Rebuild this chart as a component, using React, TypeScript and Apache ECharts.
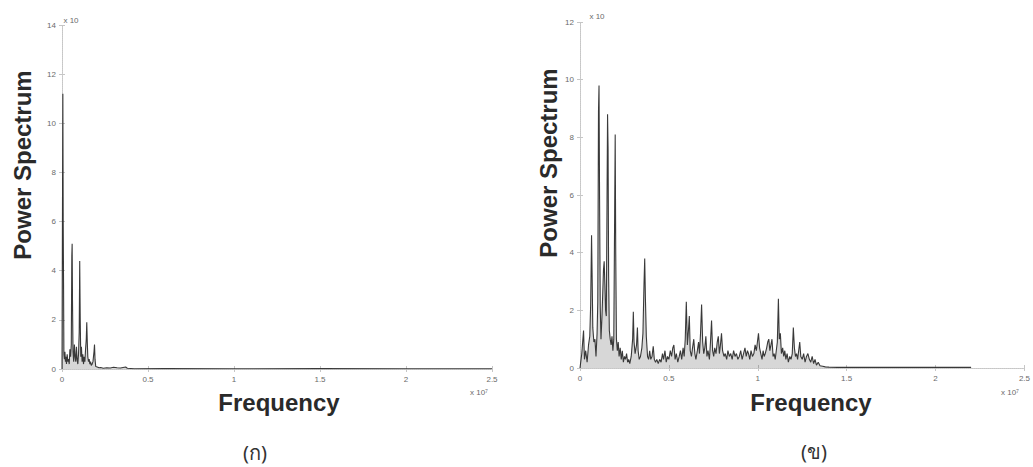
import React, { useEffect, useRef } from "react";
import * as echarts from "echarts";

// Frequency in units of 1e7, power in units of 1e10
const freqA = [
  0.0, 0.003, 0.005, 0.007, 0.009, 0.011, 0.014, 0.017, 0.02, 0.023, 0.026, 0.03, 0.034, 0.038,
  0.042, 0.046, 0.05, 0.054, 0.057, 0.059, 0.061, 0.064, 0.068, 0.072, 0.076, 0.08, 0.084, 0.088,
  0.092, 0.096, 0.1, 0.103, 0.106, 0.109, 0.113, 0.117, 0.121, 0.125, 0.129, 0.133, 0.137, 0.141,
  0.144, 0.147, 0.15, 0.154, 0.158, 0.162, 0.166, 0.17, 0.175, 0.18, 0.186, 0.189, 0.192, 0.196,
  0.205, 0.215, 0.225, 0.24, 0.26, 0.28, 0.3, 0.32, 0.34, 0.37, 0.38, 0.42, 0.6, 1.0, 1.5, 2.0, 2.5,
];
const powerA = [
  0.0, 7.0, 11.2, 6.0, 3.5, 0.6, 0.4, 0.7, 0.3, 0.5, 0.2, 0.6, 0.3, 0.4,
  0.2, 0.8, 0.5, 1.0, 4.6, 5.1, 2.8, 0.7, 0.3, 1.0, 0.5, 0.3, 0.9, 0.4,
  0.2, 0.6, 1.5, 4.4, 2.0, 0.5, 0.9, 0.3, 0.6, 0.2, 0.5, 0.3, 0.8, 1.2,
  1.9, 1.1, 0.5, 0.3, 0.4, 0.2, 0.3, 0.15, 0.2, 0.3, 0.7, 1.0, 0.4, 0.1,
  0.08, 0.05, 0.06, 0.03, 0.05, 0.04, 0.07, 0.05, 0.04, 0.08, 0.03, 0.01, 0.02, 0.01, 0.02, 0.01, 0.01,
];

const freqB = [
  0.0, 0.01, 0.02, 0.025, 0.032, 0.04, 0.048, 0.055, 0.06, 0.065, 0.068, 0.072, 0.078, 0.084,
  0.09, 0.096, 0.1, 0.104, 0.107, 0.11, 0.114, 0.118, 0.123, 0.128, 0.132, 0.136, 0.14, 0.144,
  0.148, 0.152, 0.155, 0.158, 0.161, 0.165, 0.17, 0.175, 0.18, 0.185, 0.19, 0.195, 0.198, 0.201,
  0.205, 0.21, 0.215, 0.22, 0.226, 0.232, 0.238, 0.244, 0.25, 0.256, 0.262, 0.268, 0.274, 0.28,
  0.288, 0.296, 0.3, 0.304, 0.31, 0.318, 0.323, 0.327, 0.333, 0.34, 0.348, 0.354, 0.36, 0.364,
  0.368, 0.373, 0.38, 0.386, 0.392, 0.398, 0.405, 0.412, 0.418, 0.425, 0.432, 0.44, 0.448, 0.456,
  0.464, 0.47, 0.478, 0.485, 0.492, 0.5, 0.508, 0.515, 0.522, 0.528, 0.535, 0.542, 0.55, 0.558,
  0.565, 0.572, 0.58, 0.586, 0.592, 0.598, 0.604, 0.61, 0.615, 0.62, 0.627, 0.633, 0.64, 0.646,
  0.652, 0.66, 0.667, 0.672, 0.678, 0.684, 0.69, 0.696, 0.702, 0.708, 0.714, 0.72, 0.728, 0.734,
  0.74, 0.746, 0.752, 0.758, 0.765, 0.772, 0.778, 0.784, 0.79, 0.796, 0.802, 0.81, 0.817, 0.825,
  0.832, 0.84, 0.848, 0.856, 0.864, 0.872, 0.88, 0.888, 0.896, 0.904, 0.912, 0.92, 0.928, 0.935,
  0.942, 0.948, 0.955, 0.962, 0.97, 0.978, 0.985, 0.992, 0.998, 1.004, 1.01, 1.017, 1.024, 1.03,
  1.036, 1.042, 1.05, 1.056, 1.062, 1.068, 1.074, 1.08, 1.086, 1.092, 1.098, 1.104, 1.11, 1.116,
  1.121, 1.127, 1.133, 1.14, 1.146, 1.152, 1.158, 1.165, 1.172, 1.18, 1.187, 1.194, 1.2, 1.206,
  1.212, 1.218, 1.224, 1.23, 1.236, 1.242, 1.25, 1.258, 1.266, 1.274, 1.282, 1.29, 1.298, 1.306,
  1.314, 1.322, 1.33, 1.34, 1.35, 1.365, 1.38, 1.4, 1.45, 1.6, 1.8, 2.0, 2.2,
];
const powerB = [
  0.0, 0.5, 1.3, 0.3, 0.6, 0.2, 0.8, 1.1, 2.2, 4.6, 3.3, 1.4, 0.9, 1.0,
  0.4, 1.2, 2.3, 8.9, 9.8, 6.0, 2.1, 1.0, 1.7, 2.6, 3.4, 3.7, 2.9, 2.0,
  1.8, 5.8, 8.8, 7.6, 3.2, 1.3, 1.0, 0.8, 1.1, 0.6, 1.0, 5.4, 8.1, 4.0,
  1.0, 0.6, 0.9, 0.4, 0.7, 0.3, 0.6, 0.2, 0.4, 0.3, 0.5, 0.2, 0.3, 0.15,
  0.4, 1.0, 1.95, 0.9, 0.5, 0.8, 1.4, 0.6, 0.3, 0.4, 0.7, 1.2, 2.9, 3.8,
  2.4, 1.1, 0.4, 0.3, 0.6, 0.3, 0.4, 0.75, 0.3, 0.2, 0.3, 0.15, 0.3, 0.2,
  0.5, 0.3, 0.6, 0.2, 0.4, 0.3, 0.6, 0.4, 0.7, 0.8, 0.3, 0.5, 0.2, 0.4,
  0.6, 0.3, 0.7, 0.4, 1.0, 2.3, 0.8, 1.3, 1.8, 0.6, 0.4, 0.7, 1.0, 0.5,
  0.3, 0.6, 0.9, 0.5, 1.2, 2.2, 0.9, 0.5, 0.7, 1.1, 0.4, 0.6, 0.3, 0.9,
  1.65, 0.6, 0.4, 0.7, 0.5, 0.9, 1.1, 0.5, 0.8, 1.2, 0.6, 0.4, 0.5, 0.3,
  0.6, 0.4, 0.5, 0.3, 0.6, 0.4, 0.5, 0.3, 0.4, 0.6, 0.3, 0.5, 0.7, 0.4,
  0.6, 0.5, 0.3, 0.6, 0.4, 0.5, 0.8, 0.6, 0.9, 1.2, 0.7, 0.5, 0.3, 0.6,
  0.4, 0.5, 0.7, 0.9, 1.0, 0.6, 0.8, 1.0, 0.4, 0.5, 0.3, 0.6, 0.9, 2.4,
  1.0, 1.2, 0.5, 0.7, 0.4, 0.6, 0.3, 0.5, 0.2, 0.4, 0.3, 0.5, 1.4, 0.7,
  0.4, 0.5, 0.3, 0.6, 0.9, 0.4, 0.3, 0.5, 0.2, 0.4, 0.5, 0.3, 0.2, 0.4,
  0.15, 0.3, 0.1, 0.2, 0.08, 0.06, 0.04, 0.03, 0.02, 0.02, 0.02, 0.02, 0.02,
];

const xTicks = [0, 0.5, 1, 1.5, 2, 2.5];
const yMaxA = 14;
const yMaxB = 12;

const axisGrey = "#c6c6c6";
const labelGrey = "#6a6a6a";
const inkColor = "#262626";
const titleFont = "'Liberation Sans', Arial, sans-serif";

function xLabel(v: number) {
  return xTicks.includes(v) ? String(v) : "";
}

function makeAxes(gridIndex: number, yMax: number) {
  const line = { show: true, lineStyle: { color: axisGrey, type: "dotted", width: 1 } };
  const tick = { show: true, inside: true, length: 3, lineStyle: { color: axisGrey } };
  const label = {
    show: true,
    color: labelGrey,
    fontSize: 8,
    margin: 6,
    fontFamily: "'Liberation Sans', Arial, sans-serif",
  };
  const xs = [
    {
      type: "value", gridIndex, min: 0, max: 2.5, interval: 0.5, position: "bottom",
      axisLine: line, axisTick: tick, axisLabel: { ...label, formatter: xLabel },
      splitLine: { show: false },
    },
    {
      type: "value", gridIndex, min: 0, max: 2.5, interval: 0.5, position: "top",
      axisLine: line, axisTick: tick, axisLabel: { show: false }, splitLine: { show: false },
    },
  ];
  const ys = [
    {
      type: "value", gridIndex, min: 0, max: yMax, interval: 2, position: "left",
      axisLine: line, axisTick: tick, axisLabel: label, splitLine: { show: false },
    },
    {
      type: "value", gridIndex, min: 0, max: yMax, interval: 2, position: "right",
      axisLine: line, axisTick: tick, axisLabel: { show: false }, splitLine: { show: false },
    },
  ];
  return { xs, ys };
}

function pairs(xs: number[], ys: number[]) {
  return xs.map((x, i) => [x, ys[i]]);
}

function text(x: number, y: number, s: string, style: Record<string, any>, rotation = 0) {
  return {
    type: "text",
    x,
    y,
    rotation,
    style: { text: s, textAlign: "center", textVerticalAlign: "middle", ...style },
  };
}

function spectrumSeries(axisIndex: number, data: number[][]) {
  return {
    type: "line",
    xAxisIndex: axisIndex,
    yAxisIndex: axisIndex,
    data,
    showSymbol: false,
    lineStyle: { color: inkColor, width: 1.1, opacity: 0.9 },
    areaStyle: { color: "#4a4a4a", opacity: 0.22 },
    silent: true,
  };
}

export default function App() {
  const ref = useRef<HTMLDivElement>(null);

  useEffect(() => {
    document.body.style.margin = "0";
    const chart = echarts.init(ref.current!, undefined, { renderer: "svg" });
    const a = makeAxes(0, yMaxA);
    const b = makeAxes(1, yMaxB);

    const axisTitle = { font: `bold 24px ${titleFont}`, fill: "#2a2a2a" };
    const caption = { font: "20px 'Noto Sans', 'DejaVu Sans', sans-serif", fill: "#333" };
    const expo = { font: "8px 'Liberation Sans', Arial, sans-serif", fill: labelGrey };

    chart.setOption({
      animation: false,
      backgroundColor: "#ffffff",
      grid: [
        { left: 62, top: 25, width: 430, height: 344 },
        { left: 580, top: 22, width: 445, height: 346 },
      ],
      xAxis: [...a.xs, ...b.xs],
      yAxis: [...a.ys, ...b.ys],
      series: [spectrumSeries(0, pairs(freqA, powerA)), spectrumSeries(2, pairs(freqB, powerB))],
      graphic: [
        text(279, 402, "Frequency", axisTitle),
        text(22, 165, "Power Spectrum", axisTitle, Math.PI / 2),
        text(811, 402, "Frequency", axisTitle),
        text(548, 163, "Power Spectrum", axisTitle, Math.PI / 2),
        text(255, 452, "(ก)", caption),
        text(814, 451, "(ข)", caption),
        text(71, 20, "x 10", expo),
        text(597, 16, "x 10", expo),
        text(479, 392, "x 10⁷", expo),
        text(1010, 392, "x 10⁷", expo),
      ],
    });
    return () => chart.dispose();
  }, []);

  return <div ref={ref} style={{ width: 1033, height: 467 }} />;
}
